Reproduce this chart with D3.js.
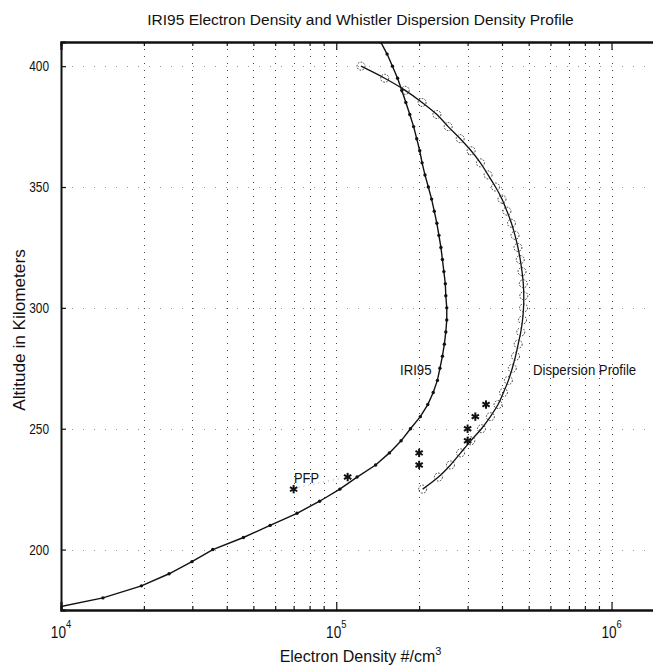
<!DOCTYPE html>
<html>
<head>
<meta charset="utf-8">
<script src="https://cdn.jsdelivr.net/npm/d3@7"></script>
<style>
  html, body { margin: 0; padding: 0; background: #fff; }
  svg { display: block; }
  text { font-family: "Liberation Sans", Arial, Helvetica, sans-serif; fill: #111; }
</style>
</head>
<body>
<svg id="chart" width="653" height="668"></svg>
<script>
// IRI95 model electron density profile (altitude km, density #/cm^3)
const iriAlt = [175,180,185,190,195,200,205,210,215,220,225,230,235,240,245,250,255,260,265,270,
                275,280,285,290,295,300,305,310,315,320,325,330,335,340,345,350,355,360,365,370,
                375,380,385,390,395,400,405,410];
const iriNe  = [8.7e3,1.42e4,1.96e4,2.47e4,2.99e4,3.56e4,4.6e4,5.75e4,7.2e4,8.7e4,1.03e5,1.19e5,1.39e5,1.56e5,1.72e5,1.86e5,2.02e5,2.15e5,2.25e5,2.33e5,
                2.38e5,2.43e5,2.47e5,2.50e5,2.52e5,2.52e5,2.50e5,2.49e5,2.46e5,2.43e5,2.40e5,2.36e5,2.32e5,2.27e5,2.22e5,2.16e5,2.10e5,2.05e5,2.01e5,1.96e5,
                1.91e5,1.85e5,1.79e5,1.73e5,1.67e5,1.60e5,1.53e5,1.45e5];

// Density profile derived from whistler dispersion
const dispAlt = [225,230,235,240,245,250,255,260,265,270,275,280,285,290,295,300,305,310,
                 315,320,325,330,335,340,345,350,355,360,365,370,375,380,385,390,395,400];
const dispNe  = [2.06e5,2.35e5,2.60e5,2.83e5,3.08e5,3.37e5,3.63e5,3.87e5,4.05e5,4.22e5,4.36e5,4.48e5,4.58e5,4.68e5,4.75e5,4.79e5,4.80e5,4.78e5,
                 4.73e5,4.66e5,4.57e5,4.46e5,4.33e5,4.17e5,4.00e5,3.79e5,3.56e5,3.34e5,3.09e5,2.82e5,2.55e5,2.32e5,2.05e5,1.78e5,1.50e5,1.23e5];

// Individual density estimates (asterisks); the first is the PFP value
const starAlt = [225,230,235,240,245,250,255,260];
const starNe  = [7.0e4,1.1e5,2.0e5,2.0e5,3.0e5,3.0e5,3.2e5,3.5e5];

// Axis ticks
const xMajorExp = [4,5,6];
const yTicks = [200,250,300,350,400];

const svg = d3.select("#chart");
const L = 61, R = 660, T = 42, B = 610;

const x = d3.scaleLog().domain([1e4, 1.5e6]).range([L, R]);
const y = d3.scaleLinear().domain([175, 410]).range([B, T]);

const xMajors = xMajorExp.map(e => Math.pow(10, e));
const xMinors = [];
[4,5,6].forEach(e => { for (let k = 2; k <= 9; k++) { const v = k * Math.pow(10, e); if (v <= 1.5e6) xMinors.push(v); } });

// text placed with optional horizontal condensing
function label(sel, px, py, anchor, size, sx) {
  return sel.append("text")
    .attr("transform", `translate(${px},${py}) scale(${sx},1)`)
    .attr("text-anchor", anchor)
    .attr("font-size", size);
}

svg.append("defs").append("clipPath").attr("id", "plotClip")
  .append("rect").attr("x", L).attr("y", T).attr("width", R - L).attr("height", B - T);

// grid
const grid = svg.append("g").attr("stroke", "#444").attr("stroke-width", 1)
  .attr("stroke-dasharray", "1,6").attr("fill", "none");
grid.selectAll("line.v").data(xMajors.concat(xMinors)).join("line")
  .attr("class", "v")
  .attr("x1", d => Math.round(x(d)) + 0.5).attr("x2", d => Math.round(x(d)) + 0.5)
  .attr("y1", T).attr("y2", B);
grid.selectAll("line.h").data(yTicks).join("line")
  .attr("class", "h")
  .attr("x1", L).attr("x2", R)
  .attr("y1", d => Math.round(y(d)) + 0.5).attr("y2", d => Math.round(y(d)) + 0.5)
  .attr("stroke-dasharray", "1,10").attr("stroke", "#999");

// axes (ticks point inward)
const axBottom = svg.append("g").attr("transform", `translate(0,${B})`)
  .call(d3.axisBottom(x).tickValues(xMajors).tickSize(-8).tickFormat(""));
const axBottomMinor = svg.append("g").attr("transform", `translate(0,${B})`)
  .call(d3.axisBottom(x).tickValues(xMinors).tickSize(-4).tickFormat(""));
const axTop = svg.append("g").attr("transform", `translate(0,${T})`)
  .call(d3.axisTop(x).tickValues(xMajors).tickSize(-8).tickFormat(""));
const axTopMinor = svg.append("g").attr("transform", `translate(0,${T})`)
  .call(d3.axisTop(x).tickValues(xMinors).tickSize(-4).tickFormat(""));
const axLeft = svg.append("g").attr("transform", `translate(${L},0)`)
  .call(d3.axisLeft(y).tickValues(yTicks).tickSize(-5).tickFormat(""));

[axBottom, axBottomMinor, axTop, axTopMinor, axLeft].forEach(g => {
  g.select(".domain").attr("stroke", "#111").attr("stroke-width", 2);
  g.selectAll(".tick line").attr("stroke", "#111").attr("stroke-width", 1.2);
});

// x tick labels 10^n
xMajorExp.forEach(e => {
  const t = label(svg, x(Math.pow(10, e)), 638, "middle", 16, 0.85);
  t.append("tspan").text("10");
  t.append("tspan").attr("font-size", 11).attr("dy", -10).text(e);
});

// y tick labels
yTicks.forEach(v => {
  label(svg, 49, y(v) + 5, "end", 14.5, 0.82).text(v);
});

// titles
label(svg, (L + R) / 2, 25, "middle", 15.5, 1).text("IRI95 Electron Density and Whistler Dispersion Density Profile");
const xl = label(svg, (L + R) / 2, 662, "middle", 16, 1);
xl.append("tspan").text("Electron Density #/cm");
xl.append("tspan").attr("font-size", 11).attr("dy", -7).text("3");
svg.append("text")
  .attr("transform", `translate(25,${(T + B) / 2 + 4}) rotate(-90)`)
  .attr("text-anchor", "middle").attr("font-size", 17.2)
  .text("Altitude in Kilometers");

const plot = svg.append("g").attr("clip-path", "url(#plotClip)");

// IRI95 profile
const iri = iriAlt.map((a, i) => ({ a, n: iriNe[i] }));
plot.append("path").datum(iri)
  .attr("fill", "none").attr("stroke", "#111").attr("stroke-width", 1.4)
  .attr("d", d3.line().x(d => x(d.n)).y(d => y(d.a)));
plot.selectAll("circle.iri").data(iri).join("circle")
  .attr("class", "iri").attr("cx", d => x(d.n)).attr("cy", d => y(d.a))
  .attr("r", 1.7).attr("fill", "#111");

// dispersion profile
const disp = dispAlt.map((a, i) => ({ a, n: dispNe[i] }));
plot.append("path").datum(disp)
  .attr("fill", "none").attr("stroke", "#111").attr("stroke-width", 1.3)
  .attr("d", d3.line().curve(d3.curveCatmullRom).x(d => x(d.n)).y(d => y(d.a)));
plot.selectAll("circle.disp").data(disp).join("circle")
  .attr("class", "disp").attr("cx", d => x(d.n)).attr("cy", d => y(d.a))
  .attr("r", 4).attr("fill", "none").attr("stroke", "#333")
  .attr("stroke-width", 1).attr("stroke-dasharray", "1.6,1.4");

// faint connector from the PFP estimate
plot.append("line")
  .attr("x1", x(starNe[0]) + 5).attr("y1", y(starAlt[0]) - 2)
  .attr("x2", x(starNe[1]) - 5).attr("y2", y(starAlt[1]) + 1)
  .attr("stroke", "#888").attr("stroke-width", 0.8).attr("stroke-dasharray", "1,4");

// asterisks
const stars = starAlt.map((a, i) => ({ a, n: starNe[i] }));
plot.selectAll("g.star").data(stars).join("g")
  .attr("class", "star")
  .attr("transform", d => `translate(${x(d.n)},${y(d.a)})`)
  .each(function () {
    const g = d3.select(this);
    [0, 60, 120].forEach(ang => {
      g.append("line").attr("x1", 0).attr("y1", -4.2).attr("x2", 0).attr("y2", 4.2)
        .attr("transform", `rotate(${ang})`)
        .attr("stroke", "#111").attr("stroke-width", 2);
    });
  });

// curve labels
label(svg, 400, 375, "start", 15.5, 0.85).text("IRI95");
label(svg, 533, 375, "start", 15.5, 0.85).text("Dispersion Profile");
label(svg, 294, 483, "start", 14, 0.92).text("PFP");
</script>
</body>
</html>
